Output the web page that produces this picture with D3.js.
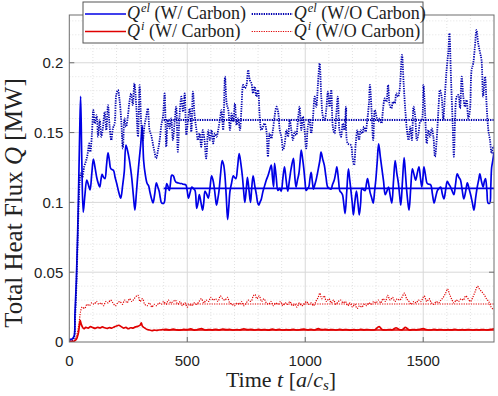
<!DOCTYPE html>
<html>
<head>
<meta charset="utf-8">
<script src="https://cdn.jsdelivr.net/npm/d3@7"></script>
<style>
  body { margin: 0; background: #fff; }
  svg { display: block; }
  .serif { font-family: "Liberation Serif", "Times New Roman", serif; }
  .sans { font-family: "Liberation Sans", Arial, sans-serif; }
</style>
</head>
<body>
<div id="chart"></div>
<script>
// total heat flux vs time, with and without carbon

const xTicks = [0, 500, 1000, 1500];
const yTicks = [0, 0.05, 0.1, 0.15, 0.2];
const yTickLabels = ["0", "0.05", "0.1", "0.15", "0.2"];

// Q^el, W/ Carbon  [t, Q]
const qElWith = [[0,.002],[10,.002],[20,.004],[24,.02],[30,.045],[35,.075],[40,.115],[44,.15],[48,.176],[53,.13],[59,.093],[66,.105],[74,.116],[82,.112],[88,.109],[95,.12],[102,.131],[109,.125],[116,.118],[122,.114],[129,.111],[134,.116],[139,.12],[145,.118],[151,.117],[158,.127],[164,.1355],[170,.13],[176,.124],[187,.123],[194,.118],[201,.1135],[210,.107],[218,.103],[226,.112],[233,.122],[240,.141],[247,.137],[254,.131],[260,.124],[265,.117],[272,.104],[278,.0945],[284,.106],[289,.117],[296,.13],[303,.142],[309,.155],[315,.13],[322,.12],[330,.1135],[336,.112],[341,.108],[348,.103],[355,.0997],[362,.106],[369,.114],[375,.111],[381,.108],[386,.103],[391,.0997],[401,.0995],[407,.106],[413,.1135],[419,.111],[424,.1085],[429,.114],[434,.1195],[441,.119],[447,.116],[452,.1145],[460,.114],[469,.1135],[476,.1135],[483,.113],[494,.1125],[500,.108],[505,.103],[512,.107],[519,.111],[526,.11],[533,.1085],[540,.0957],[546,.1],[551,.1055],[558,.1],[565,.0945],[570,.1],[575,.108],[582,.106],[589,.103],[596,.11],[603,.119],[609,.116],[614,.111],[619,.104],[624,.098],[630,.103],[635,.109],[641,.12],[648,.13],[654,.127],[659,.1205],[665,.105],[671,.0877],[676,.097],[681,.108],[688,.114],[695,.119],[700,.118],[706,.117],[713,.125],[720,.135],[727,.128],[734,.118],[739,.108],[744,.1],[750,.109],[755,.118],[762,.108],[768,.1],[773,.11],[779,.119],[786,.112],[793,.1055],[798,.1],[803,.098],[808,.1],[814,.1025],[821,.108],[828,.112],[835,.116],[842,.119],[849,.123],[856,.1267],[861,.118],[866,.111],[870,.128],[877,.118],[884,.1085],[891,.11],[898,.108],[905,.117],[912,.1255],[919,.116],[926,.108],[933,.116],[940,.124],[950,.1315],[955,.12],[961,.111],[967,.116],[973,.1205],[978,.129],[983,.1375],[989,.131],[994,.124],[999,.115],[1004,.1085],[1010,.11],[1015,.111],[1020,.117],[1025,.1215],[1030,.115],[1035,.1095],[1041,.113],[1046,.116],[1052,.121],[1057,.1255],[1062,.13],[1067,.136],[1074,.131],[1081,.1265],[1088,.118],[1095,.111],[1102,.11],[1109,.1095],[1116,.113],[1123,.116],[1129,.121],[1134,.1255],[1141,.116],[1147,.108],[1153,.107],[1158,.1055],[1164,.098],[1169,.092],[1176,.108],[1183,.124],[1188,.117],[1193,.1095],[1199,.1],[1204,.091],[1210,.1],[1217,.108],[1223,.1],[1229,.091],[1235,.1],[1240,.11],[1247,.109],[1254,.1085],[1259,.113],[1264,.117],[1270,.112],[1275,.107],[1282,.103],[1288,.0995],[1294,.108],[1299,.116],[1305,.129],[1311,.142],[1318,.133],[1325,.124],[1332,.115],[1339,.1055],[1346,.108],[1353,.111],[1360,.105],[1367,.0995],[1374,.115],[1381,.13],[1388,.121],[1395,.1135],[1400,.105],[1405,.098],[1412,.115],[1419,.132],[1425,.12],[1430,.1085],[1435,.1],[1440,.0945],[1447,.11],[1454,.124],[1461,.12],[1468,.116],[1475,.121],[1482,.1255],[1488,.118],[1494,.111],[1499,.118],[1503,.1255],[1510,.119],[1517,.1135],[1525,.113],[1532,.1125],[1539,.106],[1546,.0995],[1553,.104],[1560,.1085],[1567,.11],[1574,.111],[1581,.106],[1588,.1025],[1595,.109],[1602,.115],[1609,.113],[1616,.111],[1623,.108],[1630,.1055],[1637,.113],[1644,.1205],[1651,.118],[1658,.116],[1665,.109],[1672,.1025],[1680,.108],[1687,.114],[1694,.11],[1701,.1055],[1708,.1],[1715,.0945],[1722,.103],[1729,.111],[1735,.116],[1740,.1205],[1747,.115],[1754,.111],[1759,.115],[1764,.117],[1770,.108],[1775,.0995],[1782,.0995],[1786,.11],[1790,.125],[1795,.13],[1800,.136]];

// Q^el, W/O Carbon
const qElWithout = [[0,.001],[10,.001],[20,.003],[24,.015],[30,.04],[35,.07],[40,.1],[44,.115],[48,.1207],[55,.118],[63,.1255],[72,.1303],[78,.135],[84,.1422],[89,.1362],[96,.1494],[102,.1661],[108,.1565],[116,.1625],[122,.147],[129,.1589],[136,.147],[143,.1542],[150,.1649],[157,.1518],[164,.1697],[171,.1542],[178,.1446],[185,.153],[192,.1565],[199,.1769],[206,.1805],[213,.1733],[220,.1589],[227,.1386],[234,.1601],[241,.1542],[248,.1613],[255,.1721],[262,.178],[269,.1697],[276,.1852],[284,.1685],[291,.147],[298,.184],[305,.1565],[312,.1446],[319,.1554],[326,.1613],[333,.1673],[340,.1518],[347,.1482],[354,.1422],[361,.1362],[368,.1315],[376,.1374],[383,.1446],[390,.1554],[397,.1613],[404,.178],[411,.1398],[418,.1589],[425,.153],[432,.1601],[439,.1446],[446,.1565],[453,.1685],[460,.1362],[467,.1613],[475,.1757],[482,.1649],[489,.178],[496,.1482],[503,.1589],[510,.1673],[517,.1506],[524,.1793],[531,.1625],[538,.153],[545,.1446],[552,.1494],[559,.1398],[566,.1518],[573,.1446],[580,.1315],[589,.1518],[596,.1446],[603,.1518],[610,.1422],[617,.1494],[624,.147],[631,.1518],[638,.159],[645,.1661],[652,.1518],[660,.19],[667,.1709],[674,.1661],[681,.1518],[688,.1637],[695,.1578],[702,.1709],[709,.1554],[716,.1602],[723,.1518],[730,.1685],[737,.1841],[744,.1817],[751,.1841],[758,.1948],[765,.1876],[772,.1853],[779,.1781],[786,.1829],[793,.1757],[800,.1805],[807,.1614],[814,.1518],[821,.1542],[828,.1566],[835,.1518],[842,.1327],[849,.1494],[856,.1458],[863,.1518],[870,.1614],[878,.1685],[885,.1649],[892,.1518],[899,.147],[906,.1375],[913,.1422],[920,.1518],[927,.147],[934,.159],[941,.1518],[948,.1446],[955,.1506],[962,.1482],[969,.159],[976,.1685],[983,.1518],[990,.1614],[997,.1518],[1004,.1387],[1011,.1542],[1018,.159],[1025,.1494],[1033,.1614],[1040,.1757],[1047,.1685],[1054,.1853],[1061,.1996],[1068,.1757],[1075,.1614],[1082,.159],[1089,.1661],[1096,.1793],[1103,.1685],[1110,.1805],[1117,.1542],[1124,.1494],[1131,.1614],[1138,.1757],[1145,.1518],[1152,.147],[1159,.1566],[1166,.1518],[1173,.1685],[1180,.1422],[1193,.1411],[1200,.1327],[1207,.1267],[1214,.1422],[1221,.1518],[1228,.1446],[1235,.1518],[1242,.1494],[1249,.1542],[1256,.1506],[1263,.159],[1270,.171],[1274,.1841],[1281,.1661],[1288,.1446],[1295,.1661],[1302,.1614],[1309,.1578],[1316,.1602],[1323,.1566],[1330,.1673],[1337,.1745],[1344,.1721],[1351,.1841],[1358,.1697],[1365,.1673],[1372,.1721],[1379,.1709],[1386,.1781],[1393,.1757],[1400,.1805],[1410,.2056],[1417,.1853],[1424,.1661],[1431,.1518],[1438,.1446],[1445,.1542],[1452,.1446],[1459,.1685],[1466,.1614],[1473,.1446],[1480,.1494],[1487,.1578],[1494,.159],[1501,.1841],[1508,.1637],[1515,.1422],[1522,.1518],[1529,.147],[1536,.153],[1543,.147],[1550,.1327],[1557,.1446],[1564,.1649],[1571,.1805],[1578,.1757],[1585,.159],[1592,.1769],[1599,.1948],[1607,.2092],[1611,.2211],[1618,.1876],[1625,.1554],[1630,.1327],[1635,.159],[1642,.1757],[1649,.1769],[1656,.1673],[1663,.19],[1670,.1757],[1677,.1685],[1684,.1733],[1691,.1602],[1698,.1661],[1705,.1948],[1712,.1996],[1719,.2115],[1726,.2235],[1733,.2139],[1740,.208],[1747,.202],[1754,.1757],[1762,.19],[1769,.1685],[1776,.1518],[1783,.1446],[1790,.1351],[1797,.1399],[1800,.14]];

// Q^i, W/ Carbon
const qIWith = [[0,.0003],[20,.0006],[30,.002],[38,.006],[43,.012],[46,.0155],[50,.013],[55,.011],[62,.0095],[70,.0105],[80,.01],[90,.011],[100,.0103],[110,.0098],[120,.0105],[130,.0101],[140,.0108],[150,.0102],[160,.0097],[170,.0103],[180,.01],[190,.0108],[200,.0115],[210,.012],[220,.011],[230,.01],[240,.0105],[250,.0095],[260,.0102],[270,.01],[280,.0108],[290,.0112],[300,.012],[305,.0138],[310,.0112],[320,.01],[330,.009],[340,.0086],[350,.0082],[360,.0085],[370,.0083],[380,.0086],[395,.0088],[410,.009],[425,.0087],[440,.0092],[455,.0087],[470,.0085],[485,.009],[500,.0088],[515,.0094],[530,.0085],[545,.009],[560,.0096],[575,.0086],[590,.0089],[605,.0087],[620,.0091],[635,.0086],[650,.0093],[665,.0088],[680,.009],[695,.0086],[710,.0089],[725,.0087],[740,.0095],[755,.0088],[770,.0091],[785,.0086],[800,.009],[815,.0087],[830,.0089],[845,.0085],[860,.0092],[875,.0087],[890,.009],[905,.0086],[920,.0088],[935,.0087],[950,.009],[965,.0086],[980,.0089],[995,.0092],[1010,.0087],[1025,.009],[1040,.0086],[1055,.0096],[1070,.0088],[1085,.0091],[1100,.0087],[1115,.0089],[1130,.0086],[1145,.009],[1160,.0087],[1175,.0089],[1190,.0085],[1205,.0088],[1220,.0086],[1235,.009],[1250,.0087],[1265,.0089],[1280,.0086],[1295,.0088],[1313,.011],[1325,.009],[1340,.0086],[1355,.0089],[1370,.0088],[1385,.0102],[1395,.0092],[1410,.0087],[1425,.0105],[1440,.0086],[1455,.0089],[1470,.0087],[1485,.009],[1500,.0096],[1515,.0088],[1530,.0086],[1545,.009],[1560,.0087],[1575,.0089],[1590,.0086],[1605,.0088],[1620,.0087],[1635,.009],[1650,.0086],[1665,.0088],[1680,.0087],[1695,.0089],[1710,.0086],[1725,.0088],[1740,.0087],[1755,.0089],[1770,.0086],[1785,.009],[1800,.0095]];

// Q^i, W/O Carbon
const qIWithout = [[0,.0005],[20,.001],[30,.004],[40,.012],[48,.022],[55,.025],[65,.024],[75,.027],[85,.026],[95,.028],[105,.027],[115,.029],[125,.027],[135,.028],[145,.026],[155,.029],[165,.028],[175,.03],[185,.028],[195,.026],[205,.028],[215,.029],[225,.027],[235,.03],[245,.028],[255,.031],[265,.029],[275,.031],[285,.033],[291,.0335],[300,.029],[310,.031],[320,.027],[330,.026],[340,.028],[350,.025],[360,.027],[370,.026],[380,.028],[390,.027],[400,.029],[410,.027],[420,.03],[430,.028],[440,.029],[450,.03],[460,.027],[470,.029],[480,.026],[490,.028],[500,.025],[510,.027],[520,.026],[530,.028],[540,.027],[550,.029],[560,.031],[570,.028],[580,.03],[590,.029],[600,.032],[610,.03],[620,.031],[630,.029],[640,.033],[650,.031],[660,.03],[670,.032],[680,.028],[690,.027],[700,.026],[710,.028],[720,.027],[730,.029],[740,.026],[750,.028],[760,.03],[770,.029],[780,.033],[787,.034],[795,.031],[805,.033],[815,.029],[825,.031],[835,.028],[845,.027],[855,.029],[865,.026],[875,.028],[885,.027],[895,.029],[905,.026],[915,.028],[925,.027],[935,.029],[945,.026],[955,.027],[965,.025],[975,.028],[985,.026],[995,.027],[1005,.029],[1015,.027],[1025,.028],[1035,.026],[1045,.029],[1055,.032],[1062,.035],[1070,.031],[1080,.033],[1090,.029],[1100,.031],[1110,.028],[1120,.03],[1130,.027],[1140,.029],[1150,.03],[1160,.028],[1170,.029],[1180,.026],[1190,.028],[1200,.025],[1210,.027],[1220,.024],[1230,.026],[1240,.025],[1250,.027],[1260,.026],[1270,.028],[1280,.027],[1290,.029],[1300,.028],[1310,.03],[1320,.028],[1330,.031],[1340,.029],[1349,.0335],[1360,.03],[1370,.032],[1380,.029],[1390,.031],[1400,.03],[1410,.032],[1420,.035],[1430,.031],[1440,.029],[1450,.027],[1460,.029],[1470,.028],[1480,.03],[1490,.029],[1504,.033],[1515,.029],[1525,.031],[1535,.028],[1545,.027],[1555,.029],[1565,.028],[1575,.03],[1585,.032],[1595,.035],[1603,.038],[1612,.034],[1620,.031],[1630,.028],[1640,.03],[1650,.029],[1660,.031],[1670,.03],[1680,.033],[1690,.031],[1700,.029],[1710,.032],[1720,.036],[1730,.04],[1738,.038],[1748,.036],[1758,.034],[1768,.031],[1778,.029],[1788,.025],[1800,.023]];

// time averages drawn from t = 400 to the end
const meanRange = [400, 1800];
const meanValues = [0.11, 0.159, 0.0086, 0.0272];

const seriesNames = ["(W/ Carbon)", "(W/O Carbon)", "(W/ Carbon)", "(W/O Carbon)"];
const seriesSup = ["el", "el", "i", "i"];

const width = 498, height = 396;
const margin = { top: 15, right: 4, bottom: 54, left: 69.3 };
const W = width - margin.left - margin.right;
const H = height - margin.top - margin.bottom;

const blue = "#0000e6", red = "#e00000";
const styles = [
  { color: blue, width: 1.7, dash: null },
  { color: "#0000b0", width: 1.8, dash: "1.3,1.1" },
  { color: red, width: 1.7, dash: null },
  { color: red, width: 1.2, dash: "1.2,1.2" }
];

const x = d3.scaleLinear().domain([0, 1800]).range([0, W]);
const y = d3.scaleLinear().domain([0, 0.2342]).range([H, 0]);

const svg = d3.select("#chart").append("svg")
  .attr("width", width)
  .attr("height", height);

const g = svg.append("g").attr("transform", `translate(${margin.left},${margin.top})`);

svg.append("defs").append("clipPath").attr("id", "clip")
  .append("rect").attr("width", W).attr("height", H);

// minor grid
g.append("g")
  .attr("stroke", "#e2e2e2")
  .attr("stroke-dasharray", "1,2")
  .selectAll("line")
  .data(d3.range(100, 1800, 100).filter(v => v % 500 != 0))
  .join("line")
  .attr("x1", d => x(d)).attr("x2", d => x(d))
  .attr("y1", 0).attr("y2", H);

g.append("g")
  .attr("stroke", "#e2e2e2")
  .attr("stroke-dasharray", "1,2")
  .selectAll("line")
  .data(d3.range(1, 24).map(v => v / 100).filter(v => Math.round(v * 100) % 5 != 0))
  .join("line")
  .attr("x1", 0).attr("x2", W)
  .attr("y1", d => y(d)).attr("y2", d => y(d));

// major grid
g.append("g")
  .attr("stroke", "#d8d8d8")
  .selectAll("line")
  .data(xTicks.slice(1))
  .join("line")
  .attr("x1", d => x(d)).attr("x2", d => x(d))
  .attr("y1", 0).attr("y2", H);

g.append("g")
  .attr("stroke", "#d8d8d8")
  .selectAll("line")
  .data(yTicks.slice(1))
  .join("line")
  .attr("x1", 0).attr("x2", W)
  .attr("y1", d => y(d)).attr("y2", d => y(d));

// curves
const line = d3.line().x(d => x(d[0])).y(d => y(d[1])).curve(d3.curveCatmullRom.alpha(0.5));
const straight = d3.line().x(d => x(d[0])).y(d => y(d[1]));
const allSeries = [qElWith, qElWithout, qIWith, qIWithout];

const plot = g.append("g").attr("clip-path", "url(#clip)");

plot.selectAll("path.curve")
  .data(allSeries)
  .join("path")
  .attr("class", "curve")
  .attr("fill", "none")
  .attr("stroke", (d, i) => styles[i].color)
  .attr("stroke-width", (d, i) => styles[i].width)
  .attr("stroke-dasharray", (d, i) => styles[i].dash)
  .attr("stroke-linejoin", "round")
  .attr("d", line);

plot.selectAll("path.mean")
  .data(meanValues)
  .join("path")
  .attr("class", "mean")
  .attr("fill", "none")
  .attr("stroke", (d, i) => styles[i].color)
  .attr("stroke-width", (d, i) => styles[i].width)
  .attr("stroke-dasharray", (d, i) => styles[i].dash)
  .attr("d", d => straight(meanRange.map(t => [t, d])));

// axes box + ticks
const axisColor = "#6e6e6e";
g.append("rect")
  .attr("width", W).attr("height", H)
  .attr("fill", "none").attr("stroke", axisColor);

const tickLen = 5;
const ticks = g.append("g").attr("stroke", axisColor);
xTicks.slice(1).forEach(v => {
  ticks.append("line").attr("x1", x(v)).attr("x2", x(v)).attr("y1", H).attr("y2", H - tickLen);
  ticks.append("line").attr("x1", x(v)).attr("x2", x(v)).attr("y1", 0).attr("y2", tickLen);
});
yTicks.slice(1).forEach(v => {
  ticks.append("line").attr("x1", 0).attr("x2", tickLen).attr("y1", y(v)).attr("y2", y(v));
  ticks.append("line").attr("x1", W).attr("x2", W - tickLen).attr("y1", y(v)).attr("y2", y(v));
});

// tick labels
g.append("g")
  .attr("class", "sans")
  .attr("font-size", 15)
  .attr("fill", "#222")
  .attr("text-anchor", "middle")
  .selectAll("text")
  .data(xTicks)
  .join("text")
  .attr("x", d => x(d))
  .attr("y", H + 23.5)
  .text(d => d);

g.append("g")
  .attr("class", "sans")
  .attr("font-size", 15)
  .attr("fill", "#222")
  .attr("text-anchor", "end")
  .selectAll("text")
  .data(yTicks)
  .join("text")
  .attr("x", -6)
  .attr("y", d => y(d))
  .attr("dy", "0.36em")
  .text((d, i) => yTickLabels[i]);

// axis titles
const xt = svg.append("text")
  .attr("class", "serif")
  .attr("font-size", 22)
  .attr("fill", "#222")
  .attr("text-anchor", "middle")
  .attr("x", 281)
  .attr("y", 387);
xt.append("tspan").text("Time ");
xt.append("tspan").attr("font-style", "italic").text("t");
xt.append("tspan").text(" [");
xt.append("tspan").attr("font-style", "italic").text("a");
xt.append("tspan").text("/");
xt.append("tspan").attr("font-style", "italic").text("c");
xt.append("tspan").attr("font-style", "italic").attr("font-size", 15).attr("dy", 3).text("s");
xt.append("tspan").attr("dy", -3).text("]");

const yt = svg.append("text")
  .attr("class", "serif")
  .attr("font-size", 25)
  .attr("fill", "#222")
  .attr("text-anchor", "middle")
  .attr("transform", "translate(22,203) rotate(-90)");
yt.append("tspan").text("Total Heat Flux ");
yt.append("tspan").attr("font-style", "italic").text("Q");
yt.append("tspan").text(" [MW]");

// legend
const legend = svg.append("g");
legend.append("rect")
  .attr("x", 83).attr("y", 2)
  .attr("width", 340).attr("height", 41)
  .attr("fill", "#fff")
  .attr("stroke", "#555");

const legendPos = [[85, 14], [251.7, 14], [85, 31.5], [251.7, 31.5]];
allSeries.forEach((s, i) => {
  const [lx, ly] = legendPos[i];
  legend.append("line")
    .attr("x1", lx).attr("x2", lx + 41)
    .attr("y1", ly).attr("y2", ly)
    .attr("stroke", styles[i].color)
    .attr("stroke-width", styles[i].width)
    .attr("stroke-dasharray", styles[i].dash);
  const t = legend.append("text")
    .attr("class", "serif")
    .attr("font-size", 18)
    .attr("fill", "#222")
    .attr("x", lx + 42)
    .attr("y", ly + 5);
  t.append("tspan").attr("font-style", "italic").text("Q");
  t.append("tspan").attr("font-style", "italic").attr("font-size", 12.5).attr("dx", 1).attr("dy", -7).text(seriesSup[i]);
  t.append("tspan").attr("dy", 7).text(" " + seriesNames[i]);
});
</script>
</body>
</html>
